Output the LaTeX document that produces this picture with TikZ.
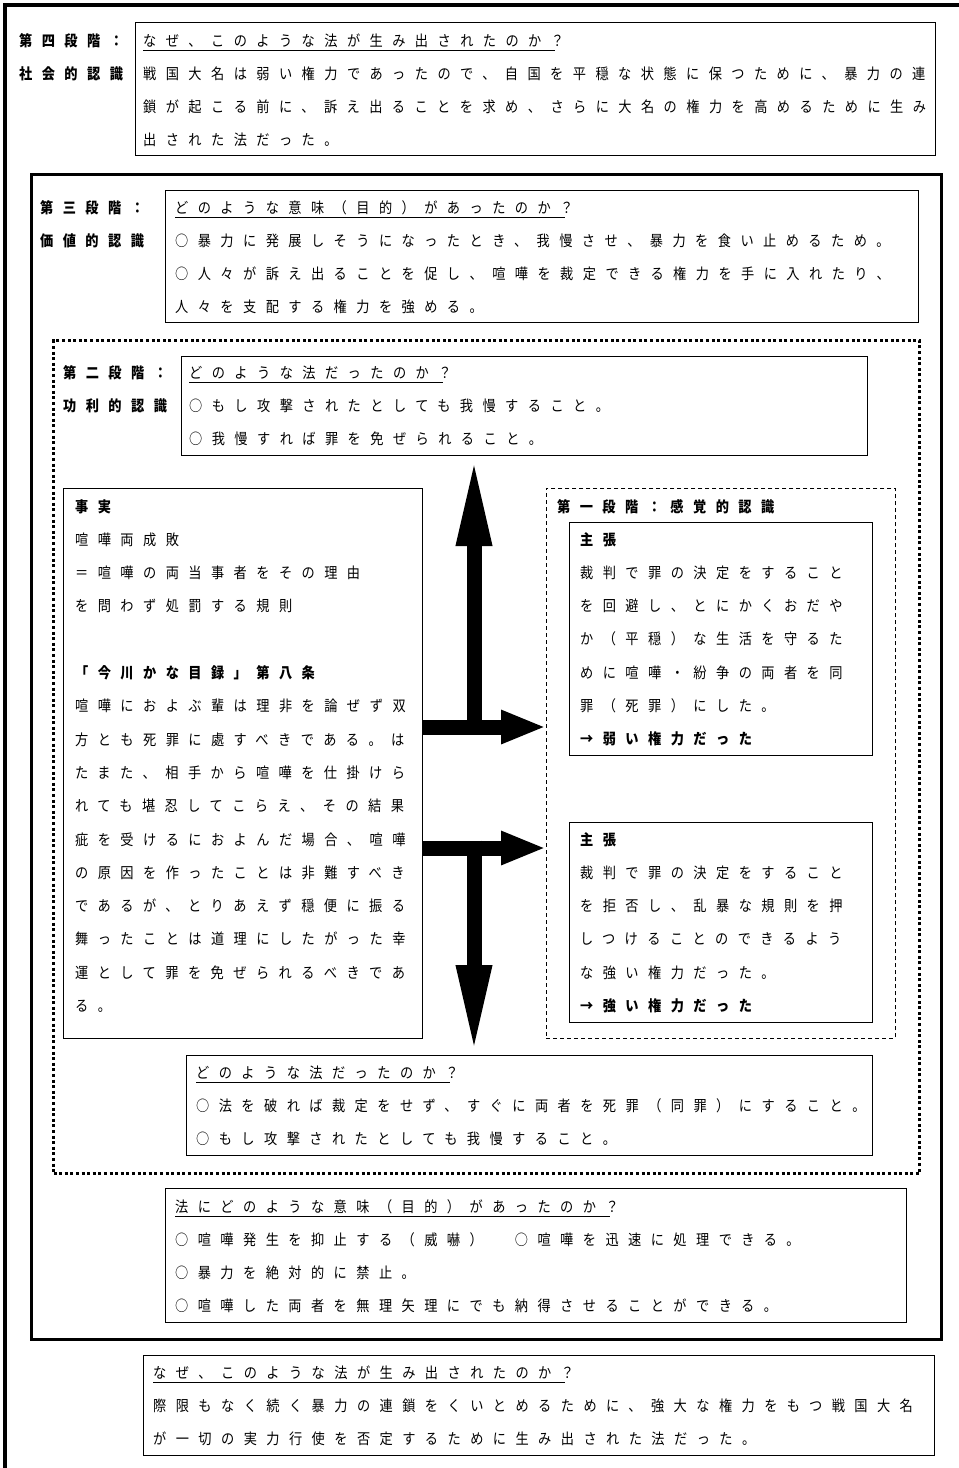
\documentclass[tikz,border=0pt]{standalone}
\usepackage{fontspec}
\newfontfamily\jp[LetterSpace=63,FakeStretch=0.88]{Noto Sans CJK JP}
\usetikzlibrary{arrows.meta}
\newcommand\txtlines[5]{%
  \foreach \myline [count=\i from 0] in {#5} {%
    \node[#1] (#2-\i) at (#3, {#4+33.3*\i+6}) {\myline};}}
\begin{document}
\begin{tikzpicture}[x=1pt,y=-1pt,
  tx/.style={anchor=base west, inner sep=0pt, font=\jp\fontsize{15pt}{15pt}\selectfont},
  bx/.style={tx, font=\jp\bfseries\fontsize{15pt}{15pt}\selectfont},
  box/.style={draw, line width=1pt, anchor=north west, inner sep=0pt},
  thickbox/.style={box, line width=3pt},
  dotbox/.style={box, line width=3pt, dash pattern=on 3pt off 2.6pt},
  dashbox/.style={box, line width=0.9pt, dash pattern=on 4pt off 3pt},
  uline/.style={line width=0.9pt},
  harr/.style={line width=15pt, -{Triangle[length=45pt,width=31pt]}},
  varr/.style={line width=15pt, -{Triangle[length=90pt,width=32pt]}}]
\useasboundingbox (0,0) rectangle (959,1468);
\fill[white] (0,0) rectangle (959,1468);
% outer frame (cropped)
\draw[line width=4pt] (5,1475) -- (5,5) -- (965,5);
% boxes
\node[box, minimum width=800pt, minimum height=133pt] (b4) at (135,22) {};
\node[thickbox, minimum width=910pt, minimum height=1165pt] (s3) at (30,173) {};
\node[box, minimum width=753pt, minimum height=132pt] (b3) at (165,190) {};
\node[dotbox, minimum width=866pt, minimum height=833pt] (s2) at (52,339) {};
\node[box, minimum width=686pt, minimum height=99pt] (b2) at (181,356) {};
\node[box, minimum width=359pt, minimum height=550pt] (fact) at (63,488) {};
\node[dashbox, minimum width=349pt, minimum height=550pt] (s1) at (546,488) {};
\node[box, minimum width=303pt, minimum height=233pt] (p1) at (569,522) {};
\node[box, minimum width=303pt, minimum height=200pt] (p2) at (569,822) {};
\node[box, minimum width=686pt, minimum height=100pt] (q2b) at (186,1055) {};
\node[box, minimum width=741pt, minimum height=134pt] (b3b) at (165,1188) {};
\node[box, minimum width=791pt, minimum height=100pt] (b5) at (143,1355) {};
% stage 4
\txtlines{bx}{l4}{19}{40}{第四段階：,社会的認識}
\txtlines{tx}{t4}{143}{40}{なぜ、このような法が生み出されたのか？,
  戦国大名は弱い権力であったので、自国を平穏な状態に保つために、暴力の連,
  鎖が起こる前に、訴え出ることを求め、さらに大名の権力を高めるために生み,
  出された法だった。}
% stage 3
\txtlines{bx}{l3}{40}{207}{第三段階：,価値的認識}
\txtlines{tx}{t3}{175}{207}{どのような意味（目的）があったのか？,
  ○暴力に発展しそうになったとき、我慢させ、暴力を食い止めるため。,
  ○人々が訴え出ることを促し、喧嘩を裁定できる権力を手に入れたり、,
  人々を支配する権力を強める。}
% stage 2
\txtlines{bx}{l2}{63}{372}{第二段階：,功利的認識}
\txtlines{tx}{t2}{189}{372}{どのような法だったのか？,
  ○もし攻撃されたとしても我慢すること。,
  ○我慢すれば罪を免ぜられること。}
% facts
\txtlines{tx}{f}{75}{506}{{\bfseries 事実},喧嘩両成敗,＝喧嘩の両当事者をその理由,
  を問わず処罰する規則,{},{\bfseries 「今川かな目録」第八条},
  喧嘩におよぶ輩は理非を論ぜず双,方とも死罪に處すべきである。は,
  たまた、相手から喧嘩を仕掛けら,れても堪忍してこらえ、その結果,
  疵を受けるにおよんだ場合、喧嘩,の原因を作ったことは非難すべき,
  であるが、とりあえず穏便に振る,舞ったことは道理にしたがった幸,
  運として罪を免ぜられるべきであ,る。}
% stage 1
\node[bx] (l1) at (557,512) {第一段階：感覚的認識};
\txtlines{tx}{a}{580}{539}{{\bfseries 主張},裁判で罪の決定をすること,
  を回避し、とにかくおだや,か（平穏）な生活を守るた,
  めに喧嘩・紛争の両者を同,罪（死罪）にした。,{\bfseries →弱い権力だった}}
\txtlines{tx}{b}{580}{839}{{\bfseries 主張},裁判で罪の決定をすること,
  を拒否し、乱暴な規則を押,しつけることのできるよう,
  な強い権力だった。,{\bfseries →強い権力だった}}
% lower boxes
\txtlines{tx}{q}{196}{1072}{どのような法だったのか？,
  ○法を破れば裁定をせず、すぐに両者を死罪（同罪）にすること。,
  ○もし攻撃されたとしても我慢すること。}
\txtlines{tx}{m}{175}{1206}{法にどのような意味（目的）があったのか？,
  ○喧嘩発生を抑止する（威嚇）　○喧嘩を迅速に処理できる。,
  ○暴力を絶対的に禁止。,
  ○喧嘩した両者を無理矢理にでも納得させることができる。}
\txtlines{tx}{z}{153}{1372}{なぜ、このような法が生み出されたのか？,
  際限もなく続く暴力の連鎖をくいとめるために、強大な権力をもつ戦国大名,
  が一切の実力行使を否定するために生み出された法だった。}
% underlines
\foreach \n in {t4-0,t3-0,t2-0,q-0,m-0,z-0}
  \draw[uline] ([yshift=-4.5pt]\n.base west) -- ([yshift=-4.5pt,xshift=-9pt]\n.base east);
% arrows
\coordinate (ua) at (474,727);
\coordinate (la) at (474,848);
\draw[harr] (fact.east |- ua) -- (s1.west |- ua);
\draw[varr] ([yshift=-7.5pt]ua) -- (b2.south -| ua);
\draw[harr] (fact.east |- la) -- (s1.west |- la);
\draw[varr] ([yshift=7.5pt]la) -- (q2b.north -| la);
\end{tikzpicture}
\end{document}
